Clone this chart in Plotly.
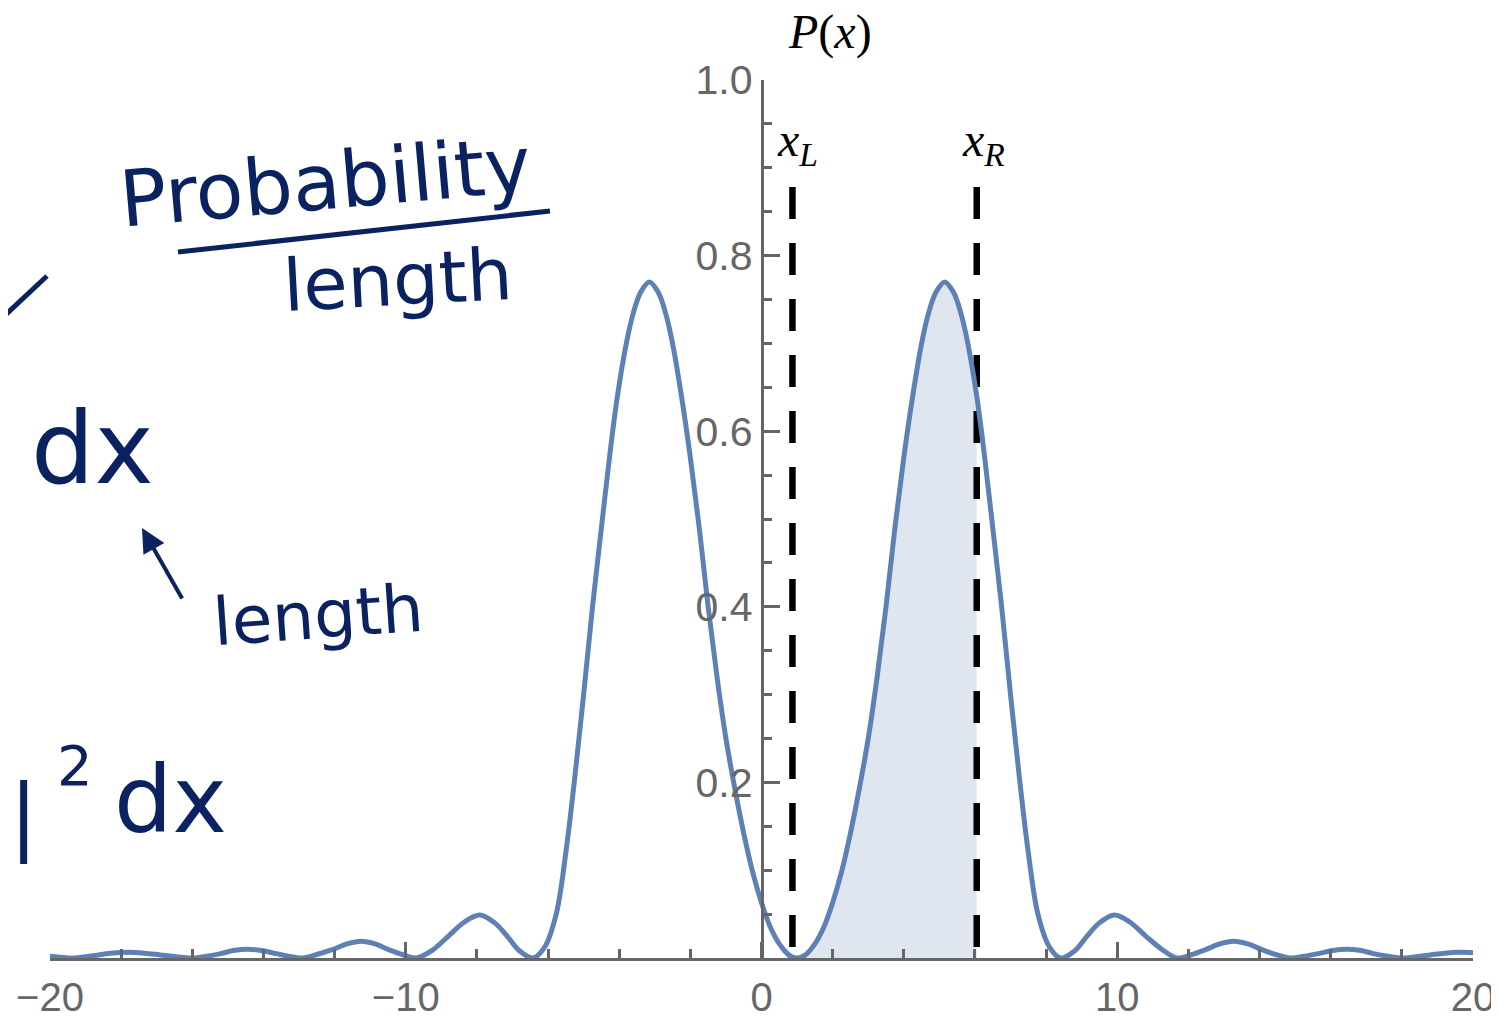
import plotly.graph_objects as go

# ---- data ----
x_vals = [-20.0, -19.3, -18.8, -18.3, -17.8, -17.35, -16.9, -16.45, -16.0,
          -15.6, -15.2, -14.85, -14.45, -14.05, -13.65, -13.3, -12.9,
          -12.5, -12.07, -11.65, -11.25, -10.86, -10.48, -10.1, -9.7,
          -9.25, -8.8, -8.35, -7.92, -7.5, -7.15, -6.8, -6.42,
          -6.1, -5.77, -5.5, -5.25, -5.0, -4.75, -4.5, -4.25, -4.05, -3.8,
          -3.6, -3.4, -3.15, -2.9, -2.7, -2.5, -2.25, -2.0, -1.75, -1.5,
          -1.25, -1.0, -0.75, -0.5, -0.25, 0.0, 0.25, 0.5, 0.75, 0.87, 1.0,
          1.25, 1.5, 1.75, 2.0, 2.25, 2.5, 2.75, 3.0, 3.25, 3.5, 3.75, 4.0,
          4.25, 4.5, 4.7, 4.9, 5.15, 5.4, 5.6, 5.8, 6.05, 6.25, 6.5, 6.75,
          7.0, 7.25, 7.5, 7.77, 8.1, 8.4,
          8.8, 9.15, 9.5, 9.92, 10.35, 10.8, 11.25, 11.68,
          12.1, 12.48, 12.88, 13.27, 13.67, 14.07, 14.45, 14.87,
          15.25, 15.65, 16.05, 16.46, 16.85, 17.2, 17.6, 17.96,
          18.4, 18.8, 19.2, 19.6, 20.0]
p_vals = [0.002, 0.0, 0.0025, 0.0055, 0.0065, 0.0055, 0.0035, 0.0015, 0.0,
          0.002, 0.005, 0.0085, 0.010, 0.0085, 0.005, 0.002, 0.0,
          0.004, 0.0095, 0.016, 0.019, 0.016, 0.0095, 0.004, 0.0,
          0.009, 0.025, 0.041, 0.049, 0.040, 0.025, 0.008, 0.0,
          0.012, 0.05, 0.12, 0.205, 0.30, 0.40, 0.49, 0.578, 0.64, 0.70,
          0.735, 0.758, 0.77, 0.758, 0.735, 0.70, 0.64, 0.57, 0.49, 0.40,
          0.32, 0.25, 0.193, 0.142, 0.098, 0.063, 0.035, 0.016, 0.004, 0.001, 0.0,
          0.004, 0.016, 0.035, 0.063, 0.098, 0.142, 0.193, 0.25, 0.32, 0.40, 0.49, 0.57,
          0.64, 0.70, 0.735, 0.758, 0.77, 0.758, 0.735, 0.70, 0.64, 0.578, 0.49, 0.40,
          0.30, 0.205, 0.12, 0.05, 0.012, 0.0,
          0.008, 0.025, 0.040, 0.049, 0.041, 0.025, 0.010, 0.0,
          0.004, 0.0095, 0.016, 0.019, 0.016, 0.0095, 0.004, 0.0,
          0.002, 0.005, 0.0085, 0.010, 0.0085, 0.005, 0.002, 0.0,
          0.0015, 0.0035, 0.0055, 0.0065, 0.006]

x_left = 0.87
x_right = 6.05
marker_top = 0.878

x_major_ticks = [-20, -10, 0, 10, 20]
x_major_text = ["\u221220", "\u221210", "0", "10", "20"]
y_major_ticks = [0.2, 0.4, 0.6, 0.8, 1.0]
y_major_text = ["0.2", "0.4", "0.6", "0.8", "1.0"]

# ---- styles ----
PAGE_OFF = 8                       # page body has an 8px margin
FIG_W, FIG_H = 1491, 1010
ML, MR, MT, MB = 42, 26, 72, 60
CURVE = "#5e81b5"
AXIS = "#666666"
INK = "#0a2360"

fig = go.Figure()

fill_x = [x for x in x_vals if x_left <= x <= x_right]
fill_y = [p for x, p in zip(x_vals, p_vals) if x_left <= x <= x_right]
fig.add_trace(go.Scatter(x=fill_x, y=fill_y, mode="lines", fill="tozeroy",
                         fillcolor="rgba(94,129,181,0.2)",
                         line=dict(width=0, shape="spline", color=CURVE),
                         hoverinfo="skip", showlegend=False))

for xv in (x_left, x_right):
    fig.add_trace(go.Scatter(x=[xv, xv], y=[marker_top, 0], mode="lines",
                             line=dict(color="black", width=6.5, dash="32px,24px"),
                             hoverinfo="skip", showlegend=False))

fig.add_trace(go.Scatter(x=x_vals, y=p_vals, mode="lines",
                         line=dict(color=CURVE, width=5, shape="spline", smoothing=1.0),
                         showlegend=False))

TICKFONT = dict(family="Liberation Sans, Arial", size=40, color=AXIS)
fig.update_xaxes(range=[-20, 20], showgrid=False, zeroline=False, automargin=False,
                 showline=True, linecolor=AXIS, linewidth=2.5,
                 tickmode="array", tickvals=x_major_ticks, ticktext=x_major_text,
                 ticks="inside", ticklen=16, tickwidth=2.5, tickcolor=AXIS,
                 tickfont=TICKFONT, ticklabeloverflow="allow", ticklabelstandoff=2,
                 minor=dict(dtick=2, tick0=0, ticks="inside", ticklen=9,
                            tickwidth=2.5, tickcolor=AXIS))
fig.update_yaxes(range=[0, 1.0], showgrid=False, zeroline=False, automargin=False,
                 anchor="free", position=0.5,
                 showline=True, linecolor=AXIS, linewidth=2.5,
                 tickmode="array", tickvals=y_major_ticks, ticktext=y_major_text,
                 ticks="inside", ticklen=17, tickwidth=2.5, tickcolor=AXIS,
                 tickfont=dict(family="Liberation Sans, Arial", size=41, color=AXIS),
                 ticklabeloverflow="allow",
                 minor=dict(dtick=0.05, tick0=0, ticks="inside", ticklen=9,
                            tickwidth=2.5, tickcolor=AXIS))

PW = FIG_W - ML - MR
PH = FIG_H - MT - MB
PLOT_L = PAGE_OFF + ML
PLOT_B = PAGE_OFF + FIG_H - MB


def px(xp):
    return (xp - PLOT_L) / PW


def py(yp):
    return (PLOT_B - yp) / PH


def label(text, xp, yp, size, family="Liberation Serif, Times New Roman", color="black",
          angle=0, xanchor="center"):
    fig.add_annotation(x=px(xp), y=py(yp), xref="paper", yref="paper", text=text,
                       showarrow=False, xanchor=xanchor, yanchor="middle", textangle=angle,
                       font=dict(family=family, size=size, color=color))


label("<i>P</i>(<i>x</i>)", 830, 32, 48)
label("<i>x</i><sub><i>L</i></sub>", 797, 143, 48)
label("<i>x</i><sub><i>R</i></sub>", 984, 143, 48)

HAND = "DejaVu Sans"
label("Probability", 325, 182, 78, family=HAND, color=INK, angle=-5)
label("length", 398, 280, 72, family=HAND, color=INK, angle=-3)
label("dx", 92, 448, 100, family=HAND, color=INK)
label("length", 318, 615, 66, family=HAND, color=INK, angle=-4)
label("\u03c8|", 40, 815, 84, family=HAND, color=INK, xanchor="right")
label("2", 75, 765, 56, family=HAND, color=INK)
label("dx", 170, 800, 92, family=HAND, color=INK)

fig.add_shape(type="line", xref="paper", yref="paper",
              x0=px(178), y0=py(252), x1=px(550), y1=py(211),
              line=dict(color=INK, width=5))
fig.add_shape(type="line", xref="paper", yref="paper",
              x0=px(0), y0=py(320), x1=px(47), y1=py(276),
              line=dict(color=INK, width=5))
fig.add_annotation(x=px(142), y=py(528), xref="paper", yref="paper",
                   ax=41, ay=72, axref="pixel", ayref="pixel",
                   text="", showarrow=True, arrowhead=2, arrowsize=1.2,
                   arrowwidth=4, arrowcolor=INK)

fig.update_layout(width=FIG_W, height=FIG_H, margin=dict(l=ML, r=MR, t=MT, b=MB),
                  plot_bgcolor="white", paper_bgcolor="white", showlegend=False)

fig.write_html("out.html", config={"displayModeBar": False})
